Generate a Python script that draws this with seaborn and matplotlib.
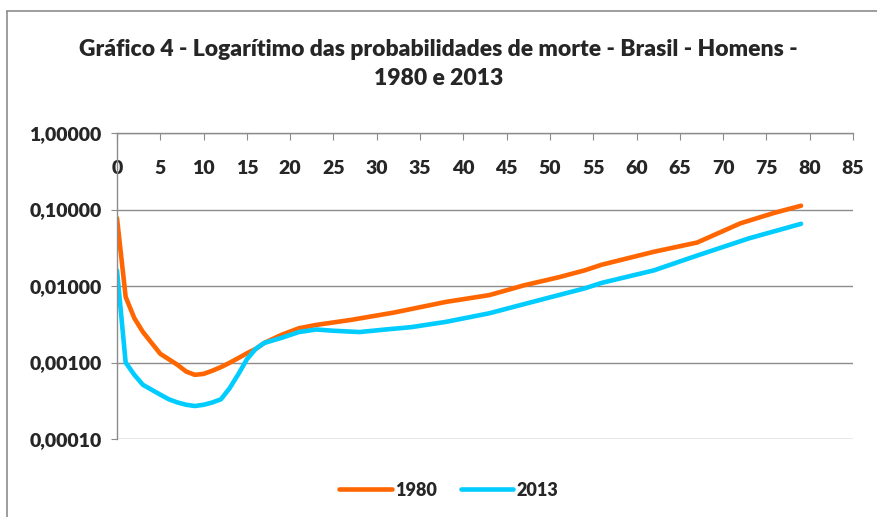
import numpy as np
import pandas as pd
import matplotlib
matplotlib.use('Agg')
import matplotlib.pyplot as plt
import matplotlib.ticker as mticker
from matplotlib.lines import Line2D
import seaborn as sns

# idades e probabilidades de morte
idade_1980 = [0, 1, 2, 3, 4, 5, 7, 8, 9, 10, 11, 12, 13, 14, 15, 16, 17, 19, 21, 23, 27, 32,
              38, 43, 47, 51, 54, 56, 62, 67, 72, 76, 79]
q_1980 = [0.077, 0.0072, 0.0038, 0.0025, 0.0018, 0.0013, 0.00093, 0.00076, 0.00069,
          0.00071, 0.00078, 0.00087, 0.00099, 0.00114, 0.00132, 0.0015, 0.0018, 0.0023,
          0.0028, 0.0031, 0.0036, 0.0045, 0.0062, 0.0076, 0.0102, 0.013, 0.016, 0.019,
          0.028, 0.037, 0.066, 0.091, 0.112]

idade_2013 = [0, 1, 2, 3, 5, 6, 7, 8, 9, 10, 11, 12, 13, 14, 15, 16, 17, 19, 21, 23,
              25, 28, 31, 34, 38, 43, 48, 51, 54, 56, 62, 67, 73, 79]
q_2013 = [0.016, 0.0010, 0.00069, 0.00051, 0.00038, 0.00033, 0.00030, 0.00028, 0.00027,
          0.00028, 0.00030, 0.00033, 0.00046, 0.00070, 0.00110, 0.0015, 0.0018, 0.0021,
          0.0025, 0.0027, 0.0026, 0.0025, 0.0027, 0.0029, 0.0034, 0.0044, 0.0062, 0.0076,
          0.0093, 0.011, 0.016, 0.025, 0.042, 0.065]

titulo = 'Gráfico 4 - Logarítimo das probabilidades de morte - Brasil - Homens -\n1980 e 2013'
y_ticks = [0.0001, 0.001, 0.01, 0.1, 1.0]
x_ticks = list(range(0, 90, 5))

sns.set_style('white')
plt.rcParams['font.family'] = ['Lato', 'DejaVu Sans']
plt.rcParams['font.weight'] = 'heavy'

W, H = 877, 517
fig = plt.figure(figsize=(W / 100, H / 100), dpi=100)
ax = fig.add_axes([117 / W, 1 - 439 / H, (853 - 117) / W, (439 - 133) / H])

laranja = '#FF6600'
ciano = '#00CCFF'
sns.lineplot(x=idade_1980, y=q_1980, ax=ax, color=laranja, linewidth=3.3, label='1980')
sns.lineplot(x=idade_2013, y=q_2013, ax=ax, color=ciano, linewidth=3.3, label='2013')

ax.set_yscale('log')
ax.set_ylim(0.0001, 1.0)
ax.set_xlim(0, 85)
ax.set_yticks(y_ticks)
ax.yaxis.set_minor_locator(mticker.NullLocator())
ax.yaxis.set_major_formatter(mticker.FuncFormatter(lambda v, p: f'{v:.5f}'.replace('.', ',')))
ax.set_xticks(x_ticks)

cinza = '#8C8C8C'
ax.grid(axis='y', color=cinza, linewidth=1)
ax.grid(axis='x', visible=False)
for s in ['right', 'bottom']:
    ax.spines[s].set_visible(False)
for s in ['left', 'top']:
    ax.spines[s].set_color(cinza)
    ax.spines[s].set_linewidth(1)

ax.tick_params(axis='x', top=True, bottom=False, labeltop=True, labelbottom=False,
               direction='in', length=5, color=cinza, pad=-32, labelsize=14)
ax.tick_params(axis='y', left=True, direction='out', length=4, color=cinza, pad=7,
               labelsize=14)
for lbl in ax.get_xticklabels() + ax.get_yticklabels():
    lbl.set_fontweight('heavy')
ax.set_xlabel('')
ax.set_ylabel('')

fig.text(0.5, 1 - 64 / H, titulo, ha='center', va='center', fontsize=16.5,
         fontweight='heavy', linespacing=1.45)

leg = ax.legend(loc='center', bbox_to_anchor=((449 - 117) / (853 - 117), 1 - (490 - 133) / (439 - 133)),
                ncol=2, frameon=False, fontsize=13, handlelength=2.9, columnspacing=1.3,
                handletextpad=0.2)
for t in leg.get_texts():
    t.set_fontweight('heavy')

# moldura do grafico
fig.add_artist(Line2D([7 / W, 7 / W], [0, 1 - 11 / H], color=cinza, lw=1.2))
fig.add_artist(Line2D([7 / W, 1], [1 - 11 / H, 1 - 11 / H], color=cinza, lw=1.2))

fig.savefig('out.png', dpi=100)
